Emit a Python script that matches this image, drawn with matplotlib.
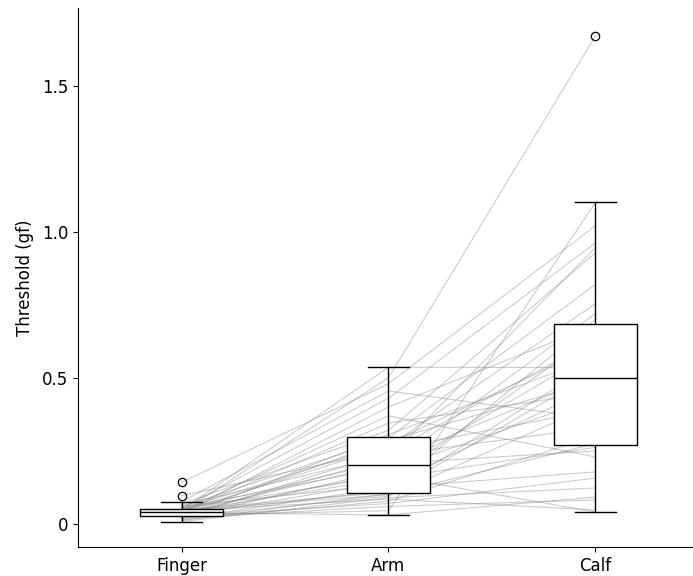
import matplotlib
matplotlib.use('Agg')
import matplotlib.pyplot as plt
import numpy as np

# Per-subject thresholds (gf); each index is one subject across the three sites
sites = ['Finger', 'Arm', 'Calf']

finger = [0.038, 0.030, 0.020, 0.025, 0.015, 0.044, 0.008, 0.023, 0.046, 0.012,
          0.049, 0.035, 0.018, 0.060, 0.026, 0.042, 0.051, 0.032, 0.021, 0.055,
          0.037, 0.047, 0.028, 0.064, 0.022, 0.096, 0.043, 0.050, 0.034, 0.058,
          0.024, 0.068, 0.039, 0.045, 0.036, 0.053, 0.076, 0.142, 0.041, 0.048]

arm = [0.031, 0.045, 0.060, 0.070, 0.078, 0.085, 0.090, 0.095, 0.100, 0.103,
       0.108, 0.115, 0.125, 0.135, 0.145, 0.155, 0.165, 0.175, 0.185, 0.196,
       0.206, 0.215, 0.225, 0.235, 0.245, 0.255, 0.265, 0.275, 0.285, 0.294,
       0.306, 0.320, 0.345, 0.370, 0.400, 0.430, 0.455, 0.480, 0.500, 0.536]

calf = [0.092, 1.100, 0.082, 0.157, 0.300, 0.048, 0.123, 0.410, 0.275, 0.520,
        0.550, 0.700, 0.178, 0.470, 0.650, 0.262, 0.041, 0.590, 0.430, 0.720,
        0.250, 0.506, 0.945, 0.330, 0.630, 0.390, 0.754, 0.610, 0.490, 0.820,
        0.570, 0.928, 0.450, 0.229, 0.680, 0.962, 0.360, 1.020, 1.670, 0.535]

data = [finger, arm, calf]
pos = np.arange(len(sites))

fig = plt.figure(figsize=(6.93, 5.76), dpi=100)
# axes run slightly past the right edge of the canvas
ax = fig.add_axes([0.1126, 0.0503, 0.896, 0.9357])

## paired lines, one per subject
for f, a, c in zip(finger, arm, calf):
    ax.plot(pos, [f, a, c], color='gray', alpha=0.4, lw=0.8, zorder=1)

## boxes on top of the lines
ax.boxplot(data, positions=pos, widths=0.4, patch_artist=True,
           boxprops=dict(facecolor='white', edgecolor='black', linewidth=1),
           medianprops=dict(color='black', linewidth=1),
           whiskerprops=dict(color='black', linewidth=1),
           capprops=dict(color='black', linewidth=1),
           flierprops=dict(marker='o', markerfacecolor='none', markeredgecolor='black',
                           markersize=6, markeredgewidth=0.9),
           zorder=2)

ax.set_xlim(-0.5, 2.5)
ax.set_ylim(-0.079, 1.765)
ax.set_xticks(pos)
ax.set_xticklabels(sites, fontsize=12)
ax.set_yticks([0, 0.5, 1.0, 1.5])
ax.set_yticklabels(['0', '0.5', '1.0', '1.5'], fontsize=12)
ax.set_ylabel('Threshold (gf)', fontsize=12, labelpad=6)
ax.spines['top'].set_visible(False)
ax.spines['right'].set_visible(False)

fig.savefig('out.png', dpi=100)
